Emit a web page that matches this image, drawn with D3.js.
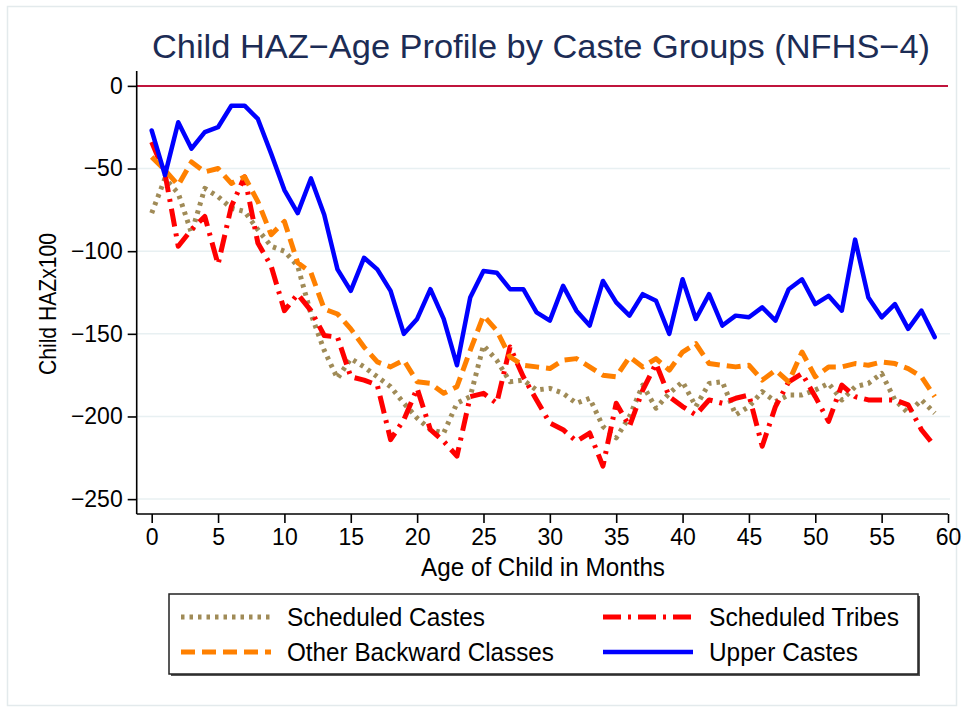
<!DOCTYPE html>
<html>
<head>
<meta charset="utf-8">
<script src="https://cdn.jsdelivr.net/npm/d3@7/dist/d3.min.js"></script>
<style>
  html, body { margin: 0; padding: 0; background: #fff; }
  svg { display: block; font-family: "Liberation Sans", Arial, Helvetica, sans-serif; }
</style>
</head>
<body>
<svg id="chart" width="964" height="709"></svg>
<script>
// Age in months (0–59)
const months = d3.range(0, 60);

// Mean height-for-age z-score ×100, by caste group
const scheduledCastes = [
  -77, -56, -65, -89, -62, -67, -74, -76, -87, -97,
  -100, -109, -138, -160, -177, -165, -170, -176, -182, -192,
  -201, -208, -210, -192, -188, -157, -166, -179, -178, -184,
  -183, -186, -192, -189, -206, -213, -200, -181, -195, -186,
  -179, -194, -180, -179, -199, -194, -185, -191, -187, -187,
  -184, -180, -190, -182, -180, -174, -190, -198, -190, -198
];
const scheduledTribes = [
  -34, -53, -97, -87, -79, -108, -73, -55, -95, -109,
  -136, -126, -136, -151, -152, -176, -178, -181, -214, -202,
  -183, -208, -215, -224, -188, -186, -192, -158, -176, -190,
  -204, -208, -215, -210, -230, -192, -206, -184, -168, -188,
  -194, -199, -190, -192, -189, -187, -218, -194, -179, -174,
  -188, -203, -181, -188, -190, -190, -190, -193, -208, -218
];
const otherBackward = [
  -43, -51, -60, -46, -52, -50, -59, -55, -70, -90,
  -82, -107, -113, -135, -138, -147, -158, -167, -170, -166,
  -179, -180, -186, -182, -160, -139, -148, -164, -169, -170,
  -171, -166, -165, -170, -175, -176, -164, -170, -165, -172,
  -161, -156, -168, -169, -170, -169, -178, -172, -179, -161,
  -176, -170, -170, -168, -169, -167, -168, -171, -176, -188
];
const upperCastes = [
  -27, -54, -22, -38, -28, -25, -12, -12, -20, -41,
  -63, -77, -56, -78, -111, -124, -104, -111, -124, -150,
  -141, -123, -141, -169, -128, -112, -113, -123, -123, -137,
  -142, -121, -136, -145, -118, -131, -139, -126, -130, -150,
  -117, -141, -126, -145, -139, -140, -134, -142, -123, -117,
  -132, -127, -136, -93, -128, -140, -132, -147, -136, -152
];

const xTicks = d3.range(0, 61, 5);
const yTicks = [0, -50, -100, -150, -200, -250];

const series = [
  { name: "Scheduled Castes",       values: scheduledCastes, color: "#a08b57", width: 5, dash: "3.5,5",    textW: 198 },
  { name: "Scheduled Tribes",       values: scheduledTribes, color: "#ff0000", width: 5, dash: "18,7,3,7", textW: 190 },
  { name: "Other Backward Classes", values: otherBackward,   color: "#ff8000", width: 5, dash: "14,7",     textW: 267 },
  { name: "Upper Castes",           values: upperCastes,     color: "#0000ff", width: 4.5, dash: null,     textW: 149 }
];

const svg = d3.select("#chart");

// outer graph region frame
svg.append("rect")
  .attr("x", 7.5).attr("y", 6.5).attr("width", 949).attr("height", 699)
  .attr("fill", "#fff").attr("stroke", "#e3eaec").attr("stroke-width", 1.5);

const plot = { left: 136.7, right: 948, top: 71, bottom: 514 };

const x = d3.scaleLinear().domain([-1.13, 60]).range([plot.left, plot.right]);
const y = d3.scaleLinear().domain([-259, 9]).range([plot.bottom, plot.top]);

// horizontal grid
svg.append("g")
  .selectAll("line")
  .data(yTicks.filter(d => d !== 0))
  .join("line")
  .attr("x1", plot.left).attr("x2", plot.right + 2)
  .attr("y1", d => y(d)).attr("y2", d => y(d))
  .attr("stroke", "#e8f0f2").attr("stroke-width", 1.5);

// reference line at zero
svg.append("line")
  .attr("x1", plot.left).attr("x2", plot.right)
  .attr("y1", y(0)).attr("y2", y(0))
  .attr("stroke", "#c0143c").attr("stroke-width", 2);

// series lines
const line = d3.line()
  .x((d, i) => x(months[i]))
  .y(d => y(d));

const lines = svg.append("g");
series.forEach(s => {
  lines.append("path")
    .datum(s.values)
    .attr("fill", "none")
    .attr("stroke", s.color)
    .attr("stroke-width", s.width)
    .attr("stroke-linejoin", "round")
    .attr("stroke-linecap", s.dash ? "butt" : "round")
    .attr("stroke-dasharray", s.dash)
    .attr("d", line);
});

// axes
const fmt = d3.format("d");
const yAxis = svg.append("g")
  .attr("transform", `translate(${plot.left},0)`)
  .call(d3.axisLeft(y).tickValues(yTicks).tickSize(9).tickPadding(5).tickFormat(d => fmt(d)));
yAxis.select(".domain").attr("d", `M0,${plot.top}V${plot.bottom}`).attr("stroke", "#000").attr("stroke-width", 1.6);
yAxis.selectAll(".tick line").attr("stroke", "#000").attr("stroke-width", 1.6);
yAxis.selectAll(".tick text").attr("font-size", 23).attr("fill", "#000")
  .attr("font-family", "'Liberation Sans', Arial, sans-serif");

const xAxis = svg.append("g")
  .attr("transform", `translate(0,${plot.bottom})`)
  .call(d3.axisBottom(x).tickValues(xTicks).tickSize(9).tickPadding(6).tickFormat(d => fmt(d)));
xAxis.select(".domain").attr("d", `M${plot.left},0H${plot.right}`).attr("stroke", "#000").attr("stroke-width", 1.6);
xAxis.selectAll(".tick line").attr("stroke", "#000").attr("stroke-width", 1.6);
xAxis.selectAll(".tick text").attr("font-size", 23).attr("fill", "#000")
  .attr("font-family", "'Liberation Sans', Arial, sans-serif");

// titles
svg.append("text")
  .attr("x", 152).attr("y", 58)
  .attr("font-size", 34)
  .attr("textLength", 778).attr("lengthAdjust", "spacingAndGlyphs")
  .attr("fill", "#1c2c55")
  .text("Child HAZ\u2212Age Profile by Caste Groups (NFHS\u22124)");

svg.append("text")
  .attr("x", 421).attr("y", 576)
  .attr("font-size", 25)
  .attr("textLength", 244).attr("lengthAdjust", "spacingAndGlyphs")
  .attr("fill", "#000")
  .text("Age of Child in Months");

svg.append("text")
  .attr("transform", "translate(56,375) rotate(-90)")
  .attr("font-size", 24)
  .attr("textLength", 142).attr("lengthAdjust", "spacingAndGlyphs")
  .attr("fill", "#000")
  .text("Child HAZx100");

// legend
const legend = svg.append("g");
legend.append("rect")
  .attr("x", 171).attr("y", 596).attr("width", 749).attr("height", 80)
  .attr("fill", "#555");
legend.append("rect")
  .attr("x", 169).attr("y", 594).attr("width", 749).attr("height", 80)
  .attr("fill", "#fff").attr("stroke", "#222").attr("stroke-width", 1.5);

const legendOrder = [
  { s: series[0], col: 0, row: 0 },
  { s: series[1], col: 1, row: 0 },
  { s: series[2], col: 0, row: 1 },
  { s: series[3], col: 1, row: 1 }
];
const colX = [181, 603];
const rowY = [617, 652];
legendOrder.forEach(({ s, col, row }) => {
  legend.append("line")
    .attr("x1", colX[col]).attr("x2", colX[col] + 90)
    .attr("y1", rowY[row]).attr("y2", rowY[row])
    .attr("stroke", s.color)
    .attr("stroke-width", s.width)
    .attr("stroke-dasharray", s.dash);
  legend.append("text")
    .attr("x", colX[col] + 106).attr("y", rowY[row] + 9)
    .attr("font-size", 25)
    .attr("textLength", s.textW).attr("lengthAdjust", "spacingAndGlyphs")
    .attr("fill", "#000")
    .text(s.name);
});
</script>
</body>
</html>
